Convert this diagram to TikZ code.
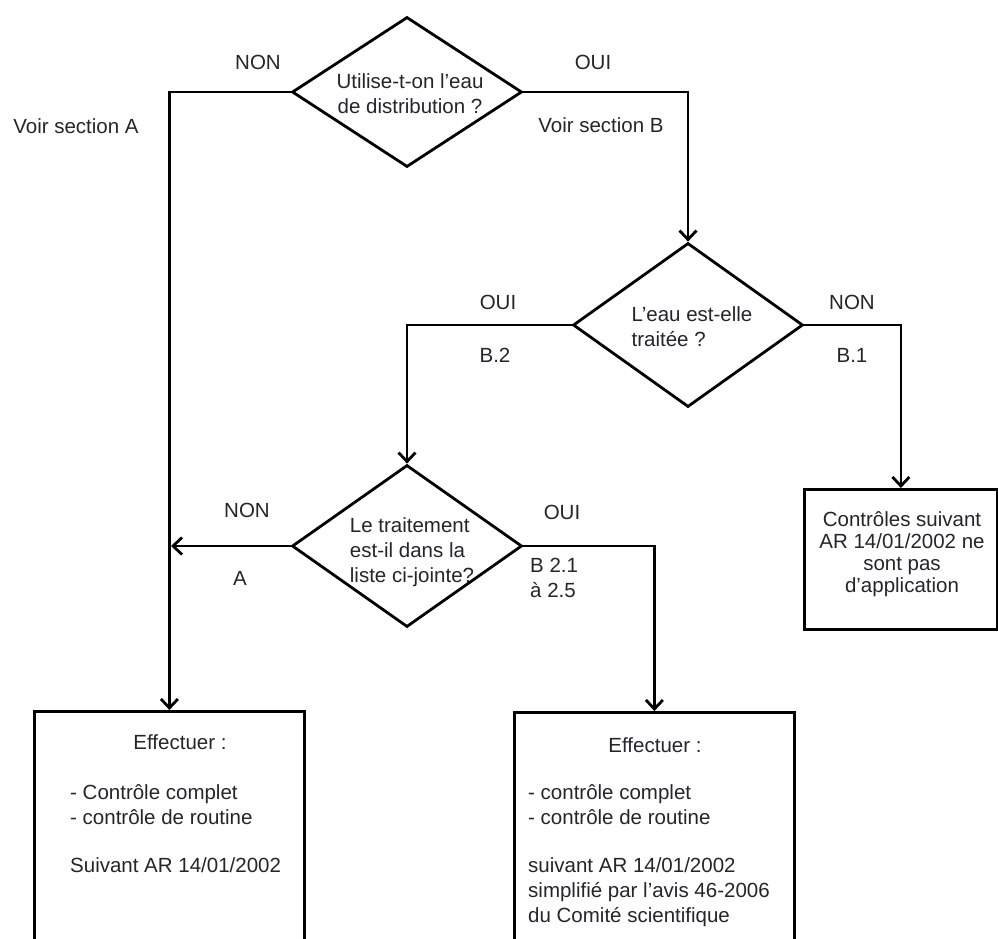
\documentclass[tikz,border=0pt]{standalone}
\usepackage{fontspec}
\setmainfont{Liberation Sans}
\usetikzlibrary{arrows.meta,shapes.geometric}
\definecolor{tc}{RGB}{38,36,44}
\tikzset{
  txt/.style={font=\fontsize{20.5}{25}\selectfont, text=tc, inner sep=0pt},
  dia/.style={draw, diamond, inner sep=0pt, line width=2.8pt},
  boxx/.style={draw, rectangle, inner sep=0pt, line width=2.8pt, anchor=north west},
  arr/.style={line width=2.8pt, -{Straight Barb[length=9pt,width=17pt,line width=2.8pt]}},
}
\begin{document}
\begin{tikzpicture}[x=1pt,y=-1pt]
\useasboundingbox (0,0) rectangle (998,939);
\fill[white] (0,0) rectangle (998,939);
\clip (0,0) rectangle (998,939);

% decisions
\node[dia, minimum width=230, minimum height=150] (d1) at (407,92) {};
\node[txt, align=center] (t1) at (410,94) {Utilise-t-on l’eau\\de distribution ?};

\node[dia, minimum width=230, minimum height=164] (d2) at (688,325) {};
\node[txt, align=left] (t2) at (692,327) {L’eau est-elle\\traitée ?};

\node[dia, minimum width=230, minimum height=162] (d3) at (407,546) {};
\node[txt, align=left] (t3) at (412,552) {Le traitement\\est-il dans la\\liste ci-jointe?};

% boxes
\node[boxx, minimum width=270, minimum height=260] (b1) at (33,710) {};
\node[boxx, minimum width=280, minimum height=260] (b2) at (513,711) {};
\node[boxx, minimum width=193, minimum height=140] (b3) at (803,488) {};
\coordinate (j) at (171,546);

% box texts
\node[txt, anchor=base] (e1) at (180,749) {Effectuer :};
\node[txt, anchor=base west] (e1a) at (70,799) {- Contrôle complet};
\node[txt, anchor=base west] (e1b) at (70,824) {- contrôle de routine};
\node[txt, anchor=base west] (e1c) at (70,872) {Suivant AR 14/01/2002};

\node[txt, anchor=base] (e2) at (655,752) {Effectuer :};
\node[txt, anchor=base west] (e2a) at (528,799) {- contrôle complet};
\node[txt, anchor=base west] (e2b) at (528,824) {- contrôle de routine};
\node[txt, anchor=base west] (e2c) at (528,872) {suivant AR 14/01/2002};
\node[txt, anchor=base west] (e2d) at (528,897) {simplifié par l’avis 46-2006};
\node[txt, anchor=base west] (e2e) at (528,922) {du Comité scientifique};

\node[txt, align=center, font=\fontsize{20.5}{22}\selectfont] (e3) at (902,554) {Contrôles suivant\\AR 14/01/2002 ne\\sont pas\\d’application};

% labels
\node[txt] (l1) at (258,62) {NON};
\node[txt] (l2) at (593,62) {OUI};
\node[txt] (l3) at (76,126) {Voir section A};
\node[txt] (l4) at (601,125) {Voir section B};
\node[txt] (l5) at (498,302) {OUI};
\node[txt] (l6) at (495,355) {B.2};
\node[txt] (l7) at (852,302) {NON};
\node[txt] (l8) at (852,355) {B.1};
\node[txt] (l9) at (247,510) {NON};
\node[txt] (l10) at (240,578) {A};
\node[txt] (l11) at (562,512) {OUI};
\node[txt, anchor=west] (l12) at (530,565) {B 2.1};
\node[txt, anchor=west] (l13) at (530,590) {à 2.5};

% connectors
\draw[arr] (d1.west) -| (b1.north);
\draw[arr] (d1.east) -| (d2.north);
\draw[arr] (d2.west) -| (d3.north);
\draw[arr] (d2.east) -| (b3.north);
\draw[arr] (d3.east) -| (b2.north);
\draw[arr] (d3.west) -- (j);
\end{tikzpicture}
\end{document}
